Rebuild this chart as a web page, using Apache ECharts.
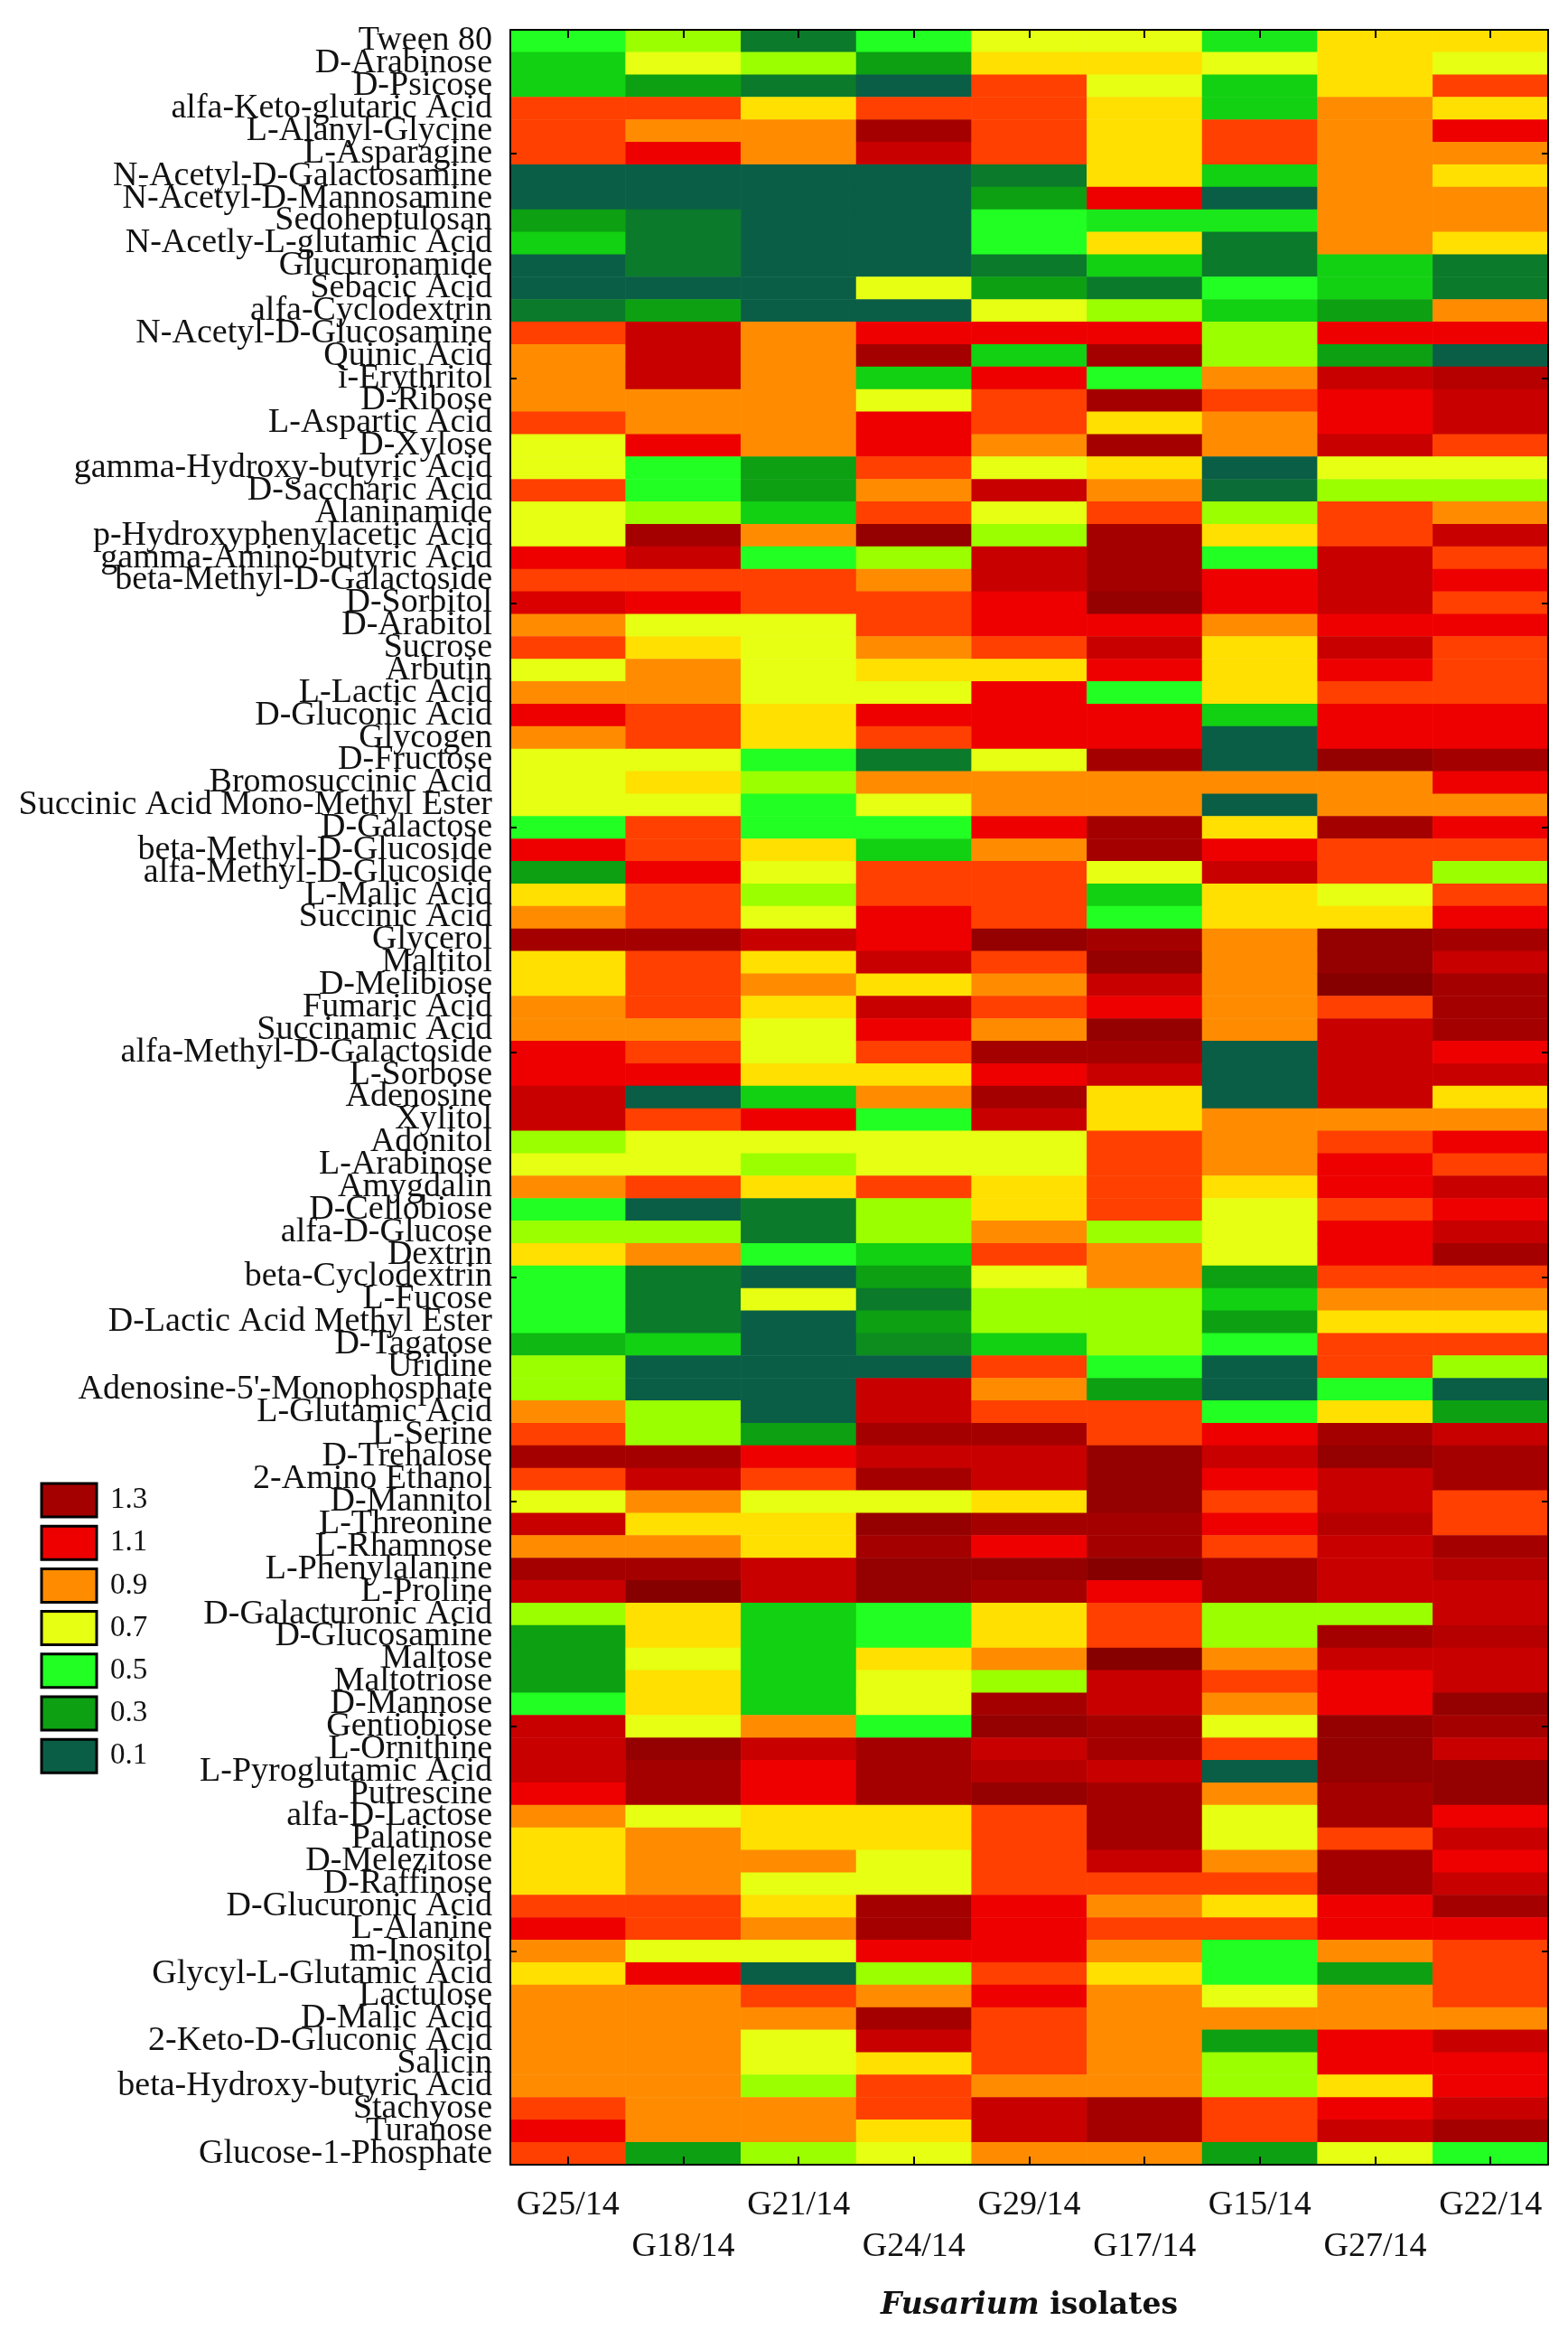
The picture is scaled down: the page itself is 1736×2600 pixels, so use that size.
<!DOCTYPE html>
<html>
<head>
<meta charset="utf-8">
<script src="https://cdn.jsdelivr.net/npm/echarts@6/dist/echarts.min.js"></script>
<style>
  html, body { margin: 0; padding: 0; background: #fff; }
  #chart { width: 1736px; height: 2600px; }
</style>
</head>
<body>
<div id="chart"></div>
<script>
// isolates (columns) and carbon sources (rows, top to bottom)
const isolates = ['G25/14', 'G18/14', 'G21/14', 'G24/14', 'G29/14', 'G17/14', 'G15/14', 'G27/14', 'G22/14'];

const substrates = [
  'Tween 80', 'D-Arabinose', 'D-Psicose', 'alfa-Keto-glutaric Acid', 'L-Alanyl-Glycine',
  'L-Asparagine', 'N-Acetyl-D-Galactosamine', 'N-Acetyl-D-Mannosamine', 'Sedoheptulosan', 'N-Acetly-L-glutamic Acid',
  'Glucuronamide', 'Sebacic Acid', 'alfa-Cyclodextrin', 'N-Acetyl-D-Glucosamine', 'Quinic Acid',
  'i-Erythritol', 'D-Ribose', 'L-Aspartic Acid', 'D-Xylose', 'gamma-Hydroxy-butyric Acid',
  'D-Saccharic Acid', 'Alaninamide', 'p-Hydroxyphenylacetic Acid', 'gamma-Amino-butyric Acid', 'beta-Methyl-D-Galactoside',
  'D-Sorbitol', 'D-Arabitol', 'Sucrose', 'Arbutin', 'L-Lactic Acid',
  'D-Gluconic Acid', 'Glycogen', 'D-Fructose', 'Bromosuccinic Acid', 'Succinic Acid Mono-Methyl Ester',
  'D-Galactose', 'beta-Methyl-D-Glucoside', 'alfa-Methyl-D-Glucoside', 'L-Malic Acid', 'Succinic Acid',
  'Glycerol', 'Maltitol', 'D-Melibiose', 'Fumaric Acid', 'Succinamic Acid',
  'alfa-Methyl-D-Galactoside', 'L-Sorbose', 'Adenosine', 'Xylitol', 'Adonitol',
  'L-Arabinose', 'Amygdalin', 'D-Cellobiose', 'alfa-D-Glucose', 'Dextrin',
  'beta-Cyclodextrin', 'L-Fucose', 'D-Lactic Acid Methyl Ester', 'D-Tagatose', 'Uridine',
  "Adenosine-5'-Monophosphate", 'L-Glutamic Acid', 'L-Serine', 'D-Trehalose', '2-Amino Ethanol',
  'D-Mannitol', 'L-Threonine', 'L-Rhamnose', 'L-Phenylalanine', 'L-Proline',
  'D-Galacturonic Acid', 'D-Glucosamine', 'Maltose', 'Maltotriose', 'D-Mannose',
  'Gentiobiose', 'L-Ornithine', 'L-Pyroglutamic Acid', 'Putrescine', 'alfa-D-Lactose',
  'Palatinose', 'D-Melezitose', 'D-Raffinose', 'D-Glucuronic Acid', 'L-Alanine',
  'm-Inositol', 'Glycyl-L-Glutamic Acid', 'Lactulose', 'D-Malic Acid', '2-Keto-D-Gluconic Acid',
  'Salicin', 'beta-Hydroxy-butyric Acid', 'Stachyose', 'Turanose', 'Glucose-1-Phosphate'
];

// one array per isolate, values read top to bottom
const g25 = [
  0.5, 0.4, 0.4, 1.0, 1.0, 1.0, 0.1, 0.1, 0.3, 0.4,
  0.1, 0.1, 0.2, 1.0, 0.9, 0.9, 0.9, 1.0, 0.7, 0.7,
  1.0, 0.7, 0.7, 1.1, 1.0, 1.15, 0.9, 1.0, 0.7, 0.9,
  1.1, 0.9, 0.7, 0.7, 0.7, 0.5, 1.1, 0.3, 0.8, 0.9,
  1.3, 0.8, 0.8, 0.9, 0.9, 1.1, 1.1, 1.2, 1.2, 0.6,
  0.7, 0.9, 0.5, 0.6, 0.8, 0.5, 0.5, 0.5, 0.35, 0.6,
  0.6, 0.9, 1.0, 1.3, 1.0, 0.7, 1.2, 0.9, 1.3, 1.2,
  0.6, 0.3, 0.3, 0.3, 0.5, 1.2, 1.2, 1.2, 1.1, 0.9,
  0.8, 0.8, 0.8, 1.0, 1.1, 0.9, 0.8, 0.9, 0.9, 0.9,
  0.9, 0.9, 1.0, 1.1, 1.0
];
const g18 = [
  0.6, 0.7, 0.3, 1.0, 0.9, 1.1, 0.1, 0.1, 0.2, 0.2,
  0.2, 0.1, 0.3, 1.2, 1.2, 1.2, 0.9, 0.9, 1.1, 0.5,
  0.5, 0.6, 1.3, 1.2, 1.0, 1.1, 0.7, 0.8, 0.9, 0.9,
  1.0, 1.0, 0.7, 0.8, 0.7, 1.0, 1.0, 1.1, 1.0, 1.0,
  1.3, 1.0, 1.0, 1.0, 0.9, 1.0, 1.1, 0.1, 1.0, 0.7,
  0.7, 1.0, 0.1, 0.6, 0.9, 0.2, 0.2, 0.2, 0.4, 0.1,
  0.1, 0.6, 0.6, 1.3, 1.2, 0.9, 0.8, 0.9, 1.3, 1.4,
  0.8, 0.8, 0.7, 0.8, 0.8, 0.7, 1.35, 1.3, 1.3, 0.7,
  0.9, 0.9, 0.9, 1.0, 1.0, 0.7, 1.1, 0.9, 0.9, 0.9,
  0.9, 0.9, 0.9, 0.9, 0.3
];
const g21 = [
  0.2, 0.6, 0.2, 0.8, 0.9, 0.9, 0.1, 0.1, 0.1, 0.1,
  0.1, 0.1, 0.1, 0.9, 0.9, 0.9, 0.9, 0.9, 0.9, 0.3,
  0.3, 0.4, 0.9, 0.5, 1.0, 1.0, 0.7, 0.7, 0.7, 0.7,
  0.8, 0.8, 0.5, 0.6, 0.5, 0.5, 0.8, 0.7, 0.6, 0.7,
  1.2, 0.8, 0.9, 0.8, 0.7, 0.7, 0.8, 0.4, 1.1, 0.7,
  0.6, 0.8, 0.2, 0.2, 0.5, 0.1, 0.7, 0.1, 0.1, 0.1,
  0.1, 0.1, 0.3, 1.1, 1.0, 0.7, 0.8, 0.8, 1.2, 1.2,
  0.4, 0.4, 0.4, 0.4, 0.4, 0.9, 1.2, 1.1, 1.1, 0.8,
  0.8, 0.9, 0.7, 0.8, 0.9, 0.7, 0.1, 1.0, 0.9, 0.7,
  0.7, 0.6, 0.9, 0.9, 0.6
];
const g24 = [
  0.5, 0.3, 0.1, 1.0, 1.3, 1.2, 0.1, 0.1, 0.1, 0.1,
  0.1, 0.7, 0.1, 1.1, 1.3, 0.4, 0.7, 1.1, 1.1, 1.0,
  0.9, 1.0, 1.35, 0.6, 0.9, 1.0, 1.0, 0.9, 0.8, 0.7,
  1.1, 1.0, 0.2, 0.9, 0.7, 0.5, 0.4, 1.0, 1.0, 1.1,
  1.1, 1.2, 0.8, 1.2, 1.1, 1.0, 0.8, 0.9, 0.5, 0.7,
  0.7, 1.0, 0.6, 0.6, 0.4, 0.3, 0.2, 0.3, 0.25, 0.1,
  1.2, 1.2, 1.3, 1.2, 1.3, 0.7, 1.35, 1.3, 1.35, 1.35,
  0.5, 0.5, 0.8, 0.7, 0.7, 0.5, 1.3, 1.3, 1.3, 0.8,
  0.8, 0.7, 0.7, 1.3, 1.3, 1.1, 0.6, 0.9, 1.3, 1.2,
  0.8, 1.0, 1.0, 0.8, 0.7
];
const g29 = [
  0.7, 0.8, 1.0, 1.0, 1.0, 1.0, 0.2, 0.3, 0.5, 0.5,
  0.2, 0.3, 0.7, 1.1, 0.4, 1.1, 1.0, 1.0, 0.9, 0.7,
  1.2, 0.7, 0.6, 1.2, 1.2, 1.1, 1.1, 1.0, 0.8, 1.1,
  1.1, 1.1, 0.7, 0.9, 0.9, 1.1, 0.9, 1.0, 1.0, 1.0,
  1.35, 1.0, 0.9, 1.0, 0.9, 1.3, 1.1, 1.3, 1.2, 0.7,
  0.7, 0.8, 0.8, 0.9, 1.0, 0.7, 0.6, 0.6, 0.4, 1.0,
  0.9, 1.0, 1.3, 1.2, 1.2, 0.8, 1.3, 1.1, 1.35, 1.3,
  0.8, 0.8, 0.9, 0.6, 1.3, 1.35, 1.2, 1.25, 1.35, 1.0,
  1.0, 1.0, 1.0, 1.1, 1.1, 1.1, 1.0, 1.1, 1.0, 1.0,
  1.0, 0.9, 1.2, 1.2, 0.9
];
const g17 = [
  0.7, 0.8, 0.7, 0.8, 0.8, 0.8, 0.8, 1.1, 0.45, 0.8,
  0.4, 0.2, 0.6, 1.1, 1.3, 0.5, 1.3, 0.8, 1.3, 0.8,
  0.9, 1.0, 1.3, 1.3, 1.3, 1.35, 1.1, 1.2, 1.1, 0.5,
  1.1, 1.1, 1.3, 0.9, 0.9, 1.3, 1.3, 0.7, 0.4, 0.5,
  1.3, 1.35, 1.2, 1.1, 1.35, 1.3, 1.2, 0.8, 0.8, 1.0,
  1.0, 1.0, 1.0, 0.6, 0.9, 0.9, 0.6, 0.6, 0.6, 0.5,
  0.3, 1.0, 1.0, 1.35, 1.35, 1.35, 1.3, 1.3, 1.4, 1.1,
  1.0, 1.0, 1.4, 1.2, 1.2, 1.3, 1.3, 1.2, 1.3, 1.3,
  1.3, 1.2, 1.0, 0.9, 1.0, 0.9, 0.8, 0.9, 0.9, 0.9,
  0.9, 0.9, 1.3, 1.3, 0.9
];
const g15 = [
  0.45, 0.7, 0.4, 0.4, 1.0, 1.0, 0.4, 0.1, 0.45, 0.2,
  0.2, 0.5, 0.4, 0.6, 0.6, 0.9, 1.0, 0.9, 0.9, 0.1,
  0.15, 0.6, 0.8, 0.5, 1.1, 1.1, 0.9, 0.8, 0.8, 0.8,
  0.4, 0.1, 0.1, 0.9, 0.1, 0.8, 1.1, 1.2, 0.8, 0.8,
  0.9, 0.9, 0.9, 0.9, 0.9, 0.1, 0.1, 0.1, 0.9, 0.9,
  0.9, 0.8, 0.7, 0.7, 0.7, 0.3, 0.4, 0.3, 0.5, 0.1,
  0.1, 0.5, 1.1, 1.2, 1.1, 1.0, 1.1, 1.0, 1.3, 1.3,
  0.6, 0.6, 0.9, 1.0, 0.9, 0.7, 1.0, 0.1, 0.9, 0.7,
  0.7, 0.9, 1.0, 0.8, 1.0, 0.5, 0.5, 0.7, 0.9, 0.3,
  0.6, 0.6, 1.0, 1.0, 0.3
];
const g27 = [
  0.8, 0.8, 0.8, 0.9, 0.9, 0.9, 0.9, 0.9, 0.9, 0.9,
  0.4, 0.4, 0.3, 1.1, 0.3, 1.2, 1.1, 1.1, 1.2, 0.7,
  0.6, 1.0, 1.0, 1.2, 1.2, 1.2, 1.1, 1.2, 1.1, 1.0,
  1.1, 1.1, 1.35, 0.9, 0.9, 1.3, 1.0, 1.0, 0.7, 0.8,
  1.35, 1.35, 1.4, 1.0, 1.2, 1.2, 1.2, 1.2, 0.9, 1.0,
  1.1, 1.1, 1.0, 1.1, 1.1, 1.0, 0.9, 0.8, 1.0, 1.0,
  0.5, 0.8, 1.3, 1.35, 1.2, 1.2, 1.25, 1.2, 1.2, 1.2,
  0.6, 1.3, 1.2, 1.1, 1.1, 1.35, 1.35, 1.35, 1.3, 1.3,
  1.0, 1.3, 1.3, 1.1, 1.1, 0.9, 0.3, 0.9, 0.9, 1.1,
  1.1, 0.8, 1.1, 1.2, 0.7
];
const g22 = [
  0.8, 0.7, 1.0, 0.8, 1.1, 0.9, 0.8, 0.9, 0.9, 0.8,
  0.2, 0.2, 0.9, 1.1, 0.1, 1.25, 1.2, 1.2, 1.0, 0.7,
  0.6, 0.9, 1.2, 1.0, 1.1, 1.0, 1.1, 1.0, 1.0, 1.0,
  1.1, 1.1, 1.3, 1.1, 0.9, 1.1, 1.0, 0.6, 1.0, 1.1,
  1.3, 1.2, 1.3, 1.3, 1.3, 1.1, 1.2, 0.8, 0.9, 1.1,
  1.0, 1.2, 1.1, 1.2, 1.3, 1.0, 0.9, 0.8, 1.0, 0.6,
  0.1, 0.3, 1.2, 1.3, 1.3, 1.0, 1.0, 1.3, 1.25, 1.2,
  1.2, 1.25, 1.2, 1.2, 1.35, 1.3, 1.2, 1.35, 1.35, 1.1,
  1.2, 1.1, 1.2, 1.3, 1.1, 1.0, 1.0, 1.0, 0.9, 1.2,
  1.1, 1.1, 1.2, 1.3, 0.5
];
const columns = [g25, g18, g21, g24, g29, g17, g15, g27, g22];

// colour stops every 0.1 from 0.1 to 1.4
const palette = [
  '#0a5e46', '#0b7a2a', '#0ca012', '#12d012', '#22ff22', '#9cff00', '#e6ff12',
  '#ffe000', '#ff8c00', '#ff4000', '#ee0000', '#c80000', '#a50000', '#860000'
];
const legendValues = [1.3, 1.1, 0.9, 0.7, 0.5, 0.3, 0.1];

const FONT = 'Liberation Serif';

const cells = [];
columns.forEach((col, i) => {
  col.forEach((v, j) => cells.push([i, j, v]));
});

const legendItems = [];
legendValues.forEach((v, k) => {
  const top = 1642 + k * 47.2;
  legendItems.push({
    type: 'rect',
    shape: { x: 46, y: top, width: 61, height: 37 },
    style: { fill: palette[Math.round((v - 0.1) * 10)], stroke: '#000', lineWidth: 3 }
  });
  legendItems.push({
    type: 'text',
    x: 122,
    y: top + 18.5,
    style: {
      text: v.toFixed(1), fill: '#111', font: '33px "Liberation Serif"',
      verticalAlign: 'middle', align: 'left'
    }
  });
});

const chart = echarts.init(document.getElementById('chart'));

const axisLine = { show: true, lineStyle: { color: '#000', width: 2 } };

chart.setOption({
  backgroundColor: '#fff',
  animation: false,
  grid: { left: 565, right: 22, top: 33, bottom: 204 },
  xAxis: [
    {
      type: 'category',
      data: isolates,
      position: 'bottom',
      z: 10,
      axisLine: axisLine,
      axisTick: { show: true, inside: true, alignWithLabel: true, length: 9, lineStyle: { color: '#000', width: 2 } },
      axisLabel: {
        interval: 0,
        margin: 22,
        fontFamily: FONT,
        fontSize: 38,
        lineHeight: 46,
        color: '#111',
        formatter: (v, i) => (i % 2 ? '\n' + v : v)
      },
      splitLine: { show: false },
      name: '{i|Fusarium} {b|isolates}',
      nameLocation: 'middle',
      nameGap: 140,
      nameTextStyle: {
        fontFamily: 'DejaVu Serif',
        fontSize: 33,
        fontWeight: 'bold',
        color: '#111',
        rich: {
          i: { fontFamily: 'DejaVu Serif', fontStyle: 'italic', fontWeight: 'bold', fontSize: 33, color: '#111' },
          b: { fontFamily: 'DejaVu Serif', fontWeight: 'bold', fontSize: 33, color: '#111' }
        }
      }
    },
    {
      type: 'category',
      data: isolates,
      position: 'top',
      z: 10,
      axisLine: axisLine,
      axisTick: { show: true, inside: true, alignWithLabel: true, length: 9, lineStyle: { color: '#000', width: 2 } },
      axisLabel: { show: false }
    }
  ],
  yAxis: [
    {
      type: 'category',
      data: substrates,
      inverse: true,
      z: 10,
      axisLine: axisLine,
      axisTick: {
        show: true, inside: true, alignWithLabel: true, length: 7,
        interval: (idx) => idx % 10 === 5,
        lineStyle: { color: '#000', width: 2 }
      },
      axisLabel: { interval: 0, margin: 20, fontFamily: FONT, fontSize: 38, color: '#111' }
    },
    {
      type: 'category',
      data: substrates,
      inverse: true,
      position: 'right',
      z: 10,
      axisLine: axisLine,
      axisTick: {
        show: true, inside: true, alignWithLabel: true, length: 7,
        interval: (idx) => idx % 10 === 5,
        lineStyle: { color: '#000', width: 2 }
      },
      axisLabel: { show: false }
    }
  ],
  visualMap: {
    show: false,
    type: 'continuous',
    min: 0.1,
    max: 1.4,
    dimension: 2,
    seriesIndex: 0,
    inRange: { color: palette }
  },
  graphic: legendItems,
  series: [
    {
      type: 'heatmap',
      xAxisIndex: 0,
      yAxisIndex: 0,
      data: cells,
      progressive: 0,
      emphasis: { disabled: true },
      itemStyle: { borderWidth: 0 }
    }
  ]
});
</script>
</body>
</html>
